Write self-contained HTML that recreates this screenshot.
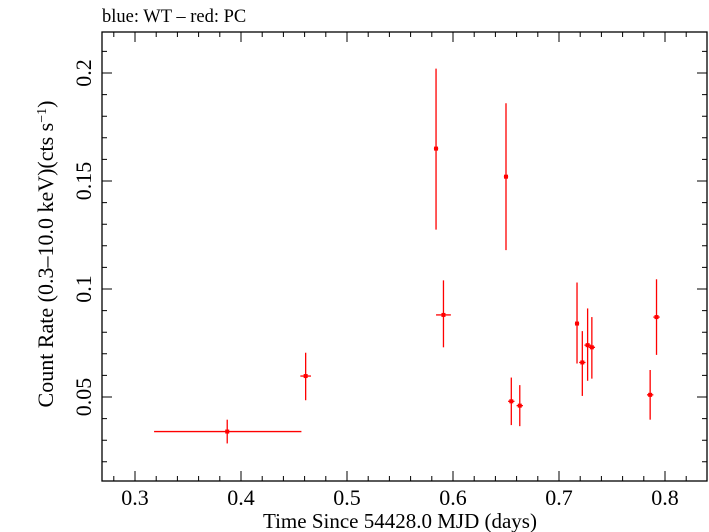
<!DOCTYPE html>
<html><head><meta charset="utf-8"><style>
body{margin:0;background:#fff;}
svg{display:block;font-family:"Liberation Serif",serif;}
</style></head><body>
<svg id="chart" width="709" height="532">
<text x="102" y="22" font-size="18.5">blue: WT – red: PC</text>
<g id="axes"></g>
<g id="marks"></g>
<text x="400" y="528" font-size="21" text-anchor="middle">Time Since 54428.0 MJD (days)</text>
<text transform="translate(53,254) rotate(-90)" font-size="22" text-anchor="middle">Count Rate (0.3–10.0 keV)(cts s<tspan dy="-7" font-size="14">−1</tspan><tspan dy="7">)</tspan></text>
</svg>
<script>
const times=[0.387,0.461,0.584,0.591,0.650,0.655,0.663,0.717,0.722,0.727,0.731,0.786,0.792];
const timeLo=[0.318,0.456,0.582,0.584,0.648,0.652,0.660,0.715,0.719,0.724,0.728,0.783,0.789];
const timeHi=[0.457,0.466,0.586,0.598,0.652,0.658,0.666,0.719,0.725,0.730,0.734,0.789,0.795];
const rates=[0.034,0.0597,0.165,0.088,0.152,0.048,0.046,0.084,0.066,0.074,0.073,0.051,0.087];
const rateLo=[0.0285,0.0485,0.1275,0.073,0.118,0.037,0.0365,0.0655,0.0505,0.0575,0.0585,0.0395,0.0695];
const rateHi=[0.0395,0.0705,0.202,0.104,0.186,0.059,0.0555,0.103,0.0805,0.091,0.087,0.0625,0.1045];
const xTicks=[0.3,0.4,0.5,0.6,0.7,0.8];
const xTickLabels=["0.3","0.4","0.5","0.6","0.7","0.8"];
const yTicks=[0.05,0.1,0.15,0.2];
const yTickLabels=["0.05","0.1","0.15","0.2"];
const L=102,R=707,T=32,B=481;
const X=v=>135+(v-0.3)*1060;
const Y=v=>397-(v-0.05)*2160;
const NS="http://www.w3.org/2000/svg";
function mk(tag,attrs,parent){const e=document.createElementNS(NS,tag);for(const k in attrs)e.setAttribute(k,attrs[k]);parent.appendChild(e);return e;}
const ax=document.getElementById('axes');
const frame=mk('rect',{x:L,y:T,width:R-L,height:B-T,fill:'none',stroke:'#000','stroke-width':1.3},ax);


for(let i=14;i<=42;i++){const v=i/50;const x=X(v);if(x<L||x>R)continue;const len=(i%5===0)?10:5;
 const t=mk('path',{d:`M${x},${B}v${-len}M${x},${T}v${len}`,stroke:'#000','stroke-width':1},ax);
 
 }
for(let i=2;i<=22;i++){const v=i/100;const y=Y(v);if(y<T||y>B)continue;const len=(i%5===0)?10:5;
 const t=mk('path',{d:`M${L},${y}h${len}M${R},${y}h${-len}`,stroke:'#000','stroke-width':1},ax);
 
 }
xTicks.forEach((v,i)=>{const t=mk('text',{x:X(v),y:505,'font-size':22,'text-anchor':'middle'},ax);t.textContent=xTickLabels[i];
 
 });
yTicks.forEach((v,i)=>{const t=mk('text',{transform:`translate(91,${Y(v)}) rotate(-90)`,'font-size':22,'text-anchor':'middle'},ax);t.textContent=yTickLabels[i];
 
 });
const mg=document.getElementById('marks');
times.forEach((t,i)=>{const g=mk('g',{stroke:'#f00','stroke-width':1.3},mg);
 
 
 mk('line',{x1:X(timeLo[i]),x2:X(timeHi[i]),y1:Y(rates[i]),y2:Y(rates[i])},g);
 mk('line',{x1:X(t),x2:X(t),y1:Y(rateLo[i]),y2:Y(rateHi[i])},g);
 mk('rect',{x:X(t)-2,y:Y(rates[i])-2,width:4,height:4,fill:'#f00',stroke:'none'},g);});
</script>
</body></html>
